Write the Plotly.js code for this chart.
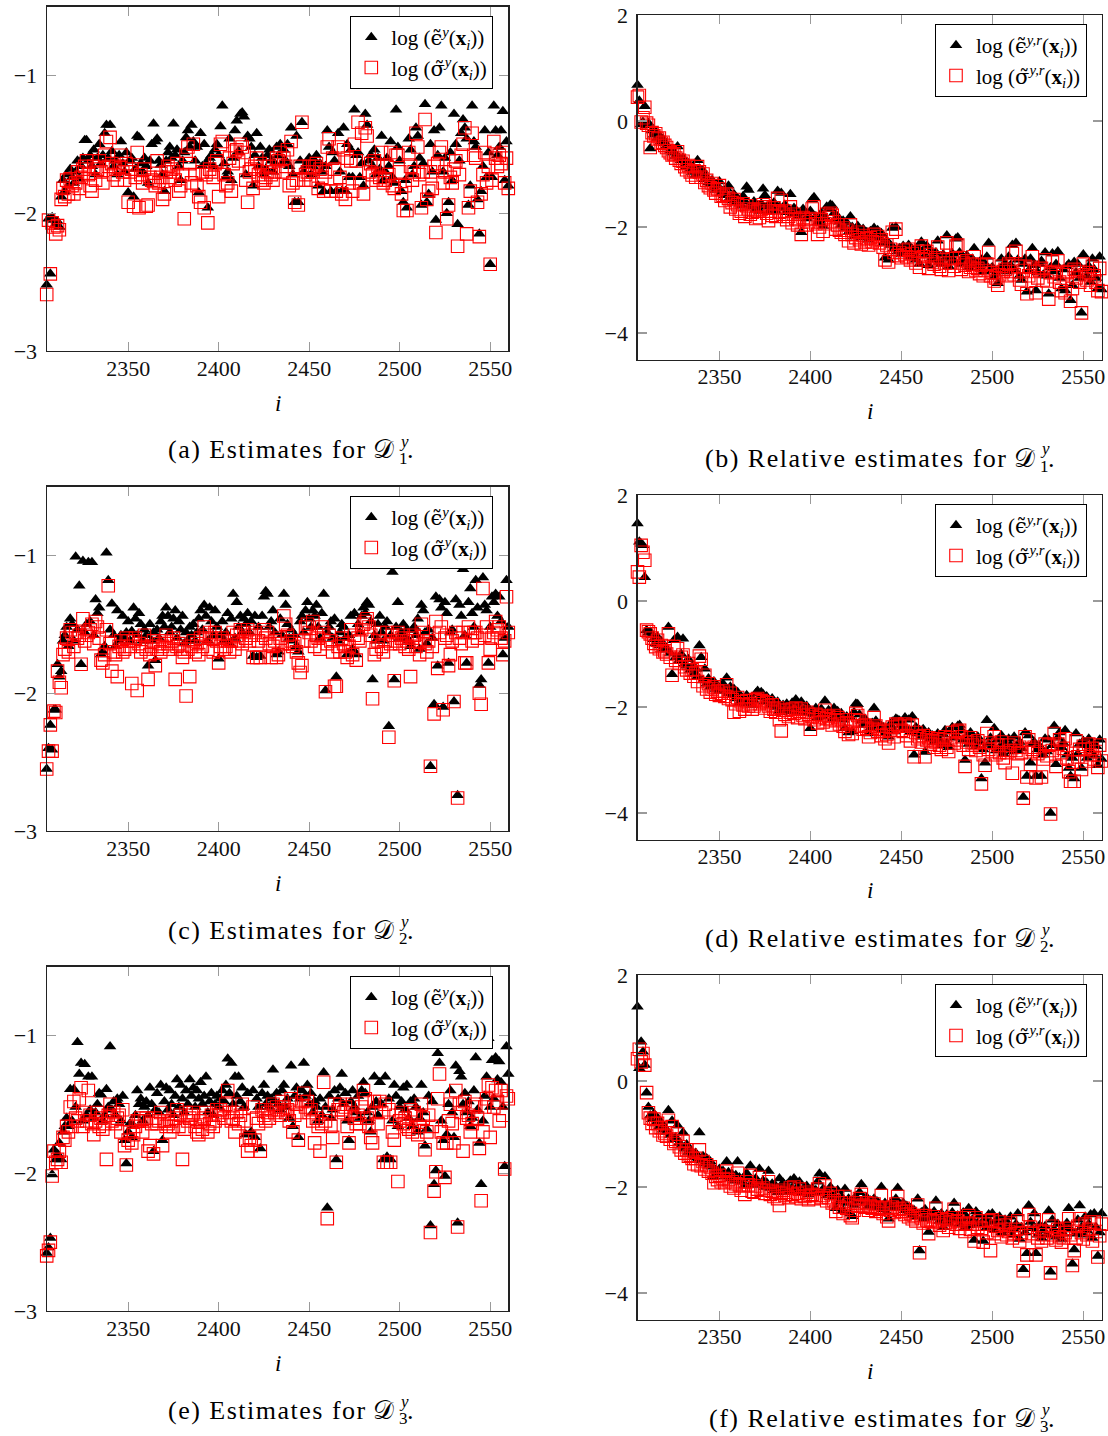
<!DOCTYPE html>
<html><head><meta charset="utf-8">
<script src="https://cdn.plot.ly/plotly-3.0.1.min.js"></script>
<style>html,body{margin:0;padding:0;background:#fff;}#chart{width:1108px;height:1436px;}</style>
</head><body><div id="chart"></div>
<script>
// ---------- data (index i from 2305 to 2560) ----------
const iStart = 2305, iEnd = 2560;
const xTicks = [2350, 2400, 2450, 2500, 2550];

const aEps = [
-2.52,-2.04,-2.44,-2.03,-2.05,-2.08,-2.06,-2.10,-1.88,-1.76,-1.84,-1.72,-1.80,-1.68,-1.74,-1.78,
-1.70,-1.62,-1.75,-1.66,-1.60,-1.47,-1.47,-1.62,-1.58,-1.66,-1.54,-1.72,-1.60,-1.50,-1.64,-1.58,
-1.42,-1.36,-1.60,-1.36,-1.55,-1.66,-1.62,-1.72,-1.58,-1.48,-1.64,-1.70,-1.56,-1.85,-1.62,-1.60,
-1.88,-1.68,-1.44,-1.45,-1.64,-1.70,-1.60,-1.66,-1.78,-1.62,-1.50,-1.35,-1.48,-1.46,-1.62,-1.65,
-1.72,-1.84,-1.62,-1.56,-1.52,-1.60,-1.35,-1.58,-1.54,-1.66,-1.76,-1.62,-1.56,-1.45,-1.40,-1.52,
-1.36,-1.48,-1.62,-1.52,-1.85,-1.42,-1.66,-1.50,-1.64,-1.96,-1.60,-1.58,-1.66,-1.54,-1.50,-1.58,
-1.37,-1.22,-1.64,-1.74,-1.70,-1.46,-1.76,-1.60,-1.40,-1.33,-1.55,-1.28,-1.27,-1.30,-1.72,-1.44,
-1.46,-1.52,-1.80,-1.58,-1.42,-1.66,-1.52,-1.60,-1.72,-1.68,-1.58,-1.54,-1.62,-1.70,-1.64,-1.52,
-1.58,-1.50,-1.64,-1.54,-1.62,-1.50,-1.66,-1.38,-1.72,-1.92,-1.44,-1.92,-1.62,-1.34,-1.70,-1.66,
-1.64,-1.60,-1.72,-1.66,-1.62,-1.58,-1.80,-1.64,-1.70,-1.84,-1.66,-1.40,-1.52,-1.84,-1.56,-1.62,
-1.84,-1.42,-1.70,-1.84,-1.38,-1.84,-1.50,-1.74,-1.54,-1.74,-1.25,-1.58,-1.56,-1.74,-1.64,-1.80,
-1.28,-1.36,-1.62,-1.58,-1.66,-1.54,-1.72,-1.60,-1.68,-1.44,-1.76,-1.70,-1.60,-1.66,-1.48,-1.74,
-1.78,-1.25,-1.52,-1.62,-1.84,-1.92,-1.76,-1.96,-1.46,-1.54,-1.72,-1.66,-1.38,-1.44,-1.60,-1.94,
-1.64,-1.21,-1.92,-1.86,-1.50,-1.70,-1.40,-2.05,-1.58,-1.38,-1.22,-1.70,-1.60,-2.00,-1.92,-1.56,
-1.76,-1.28,-1.50,-2.08,-1.62,-1.42,-1.32,-1.38,-1.46,-1.94,-1.80,-1.22,-1.48,-1.52,-1.90,-2.15,
-1.84,-1.66,-1.40,-1.74,-1.56,-2.37,-1.74,-1.22,-1.40,-1.58,-1.52,-1.40,-1.26,-1.76,-1.48,-1.80];
const aSig = [
-2.59,-2.05,-2.44,-2.07,-2.10,-2.15,-2.09,-2.12,-1.90,-1.82,-1.88,-1.76,-1.86,-1.75,-1.80,-1.86,
-1.78,-1.70,-1.82,-1.74,-1.68,-1.66,-1.62,-1.72,-1.80,-1.84,-1.66,-1.76,-1.68,-1.62,-1.70,-1.78,
-1.58,-1.48,-1.66,-1.45,-1.64,-1.72,-1.68,-1.76,-1.66,-1.58,-1.70,-1.76,-1.64,-1.92,-1.70,-1.68,
-1.95,-1.74,-1.56,-1.96,-1.72,-1.78,-1.68,-1.95,-1.94,-1.74,-1.76,-1.77,-1.80,-1.62,-1.78,-1.74,
-1.90,-1.86,-1.70,-1.66,-1.74,-1.68,-1.70,-1.76,-1.64,-1.84,-1.80,-1.72,-2.04,-1.58,-1.52,-1.64,
-1.78,-1.50,-1.72,-1.80,-1.88,-1.92,-1.70,-1.96,-1.72,-2.07,-1.68,-1.70,-1.74,-1.64,-1.62,-1.88,
-1.50,-1.48,-1.72,-1.80,-1.78,-1.60,-1.84,-1.64,-1.55,-1.54,-1.62,-1.50,-1.52,-1.56,-1.76,-1.92,
-1.70,-1.68,-1.82,-1.66,-1.60,-1.72,-1.64,-1.76,-1.78,-1.74,-1.70,-1.66,-1.72,-1.76,-1.70,-1.60,
-1.62,-1.56,-1.70,-1.60,-1.66,-1.54,-1.80,-1.48,-1.78,-1.92,-1.76,-1.94,-1.66,-1.34,-1.76,-1.72,
-1.70,-1.66,-1.76,-1.70,-1.66,-1.64,-1.82,-1.68,-1.74,-1.84,-1.70,-1.52,-1.46,-1.84,-1.60,-1.68,
-1.84,-1.52,-1.74,-1.86,-1.54,-1.90,-1.60,-1.78,-1.62,-1.84,-1.50,-1.62,-1.34,-1.78,-1.42,-1.86,
-1.38,-1.44,-1.70,-1.64,-1.72,-1.62,-1.76,-1.66,-1.74,-1.56,-1.78,-1.76,-1.66,-1.72,-1.56,-1.80,
-1.82,-1.58,-1.58,-1.70,-1.86,-1.98,-1.80,-1.98,-1.56,-1.66,-1.76,-1.70,-1.42,-1.52,-1.72,-1.96,
-1.70,-1.32,-1.90,-1.84,-1.70,-1.82,-1.66,-2.14,-1.64,-1.56,-1.52,-1.78,-1.70,-2.04,-1.94,-1.74,
-1.78,-1.68,-1.62,-2.24,-1.72,-1.58,-1.50,-1.38,-2.15,-1.96,-1.84,-1.42,-1.58,-1.60,-1.92,-2.17,
-1.86,-1.72,-1.56,-1.78,-1.66,-2.37,-1.76,-1.48,-1.60,-1.66,-1.58,-1.64,-1.56,-1.78,-1.60,-1.82];

const bEps = [
0.68,0.38,-0.06,-0.02,0.28,-0.08,-0.04,-0.52,-0.18,-0.26,-0.20,-0.32,-0.28,-0.38,-0.34,-0.42,
-0.46,-0.50,-0.56,-0.60,-0.58,-0.66,-0.48,-0.70,-0.74,-0.70,-0.82,-0.86,-0.80,-0.90,-0.96,-0.88,
-1.02,-0.74,-0.90,-1.00,-0.94,-1.10,-1.06,-1.16,-1.20,-1.12,-1.26,-1.30,-1.22,-1.14,-1.36,-1.32,
-1.40,-1.28,-1.22,-1.44,-1.50,-1.38,-1.54,-1.46,-1.56,-1.60,-1.42,-1.52,-1.24,-1.30,-1.58,-1.62,
-1.52,-1.66,-1.60,-1.70,-1.56,-1.28,-1.40,-1.62,-1.72,-1.58,-1.66,-1.54,-1.70,-1.32,-1.62,-1.36,
-1.64,-1.58,-1.72,-1.66,-1.38,-1.76,-1.64,-1.68,-1.80,-1.74,-2.10,-1.66,-1.72,-1.84,-1.78,-1.70,
-1.48,-1.44,-1.80,-1.92,-1.86,-1.74,-1.98,-1.82,-1.62,-1.66,-1.58,-1.60,-1.74,-1.86,-1.80,-1.90,
-1.96,-1.88,-2.02,-1.92,-2.10,-1.80,-2.00,-2.18,-2.06,-1.98,-2.12,-2.20,-2.04,-2.16,-2.10,-2.24,
-2.08,-2.18,-2.02,-2.14,-2.06,-2.20,-2.12,-2.30,-2.58,-2.26,-2.62,-2.34,-2.02,-2.40,-2.00,-2.46,
-2.40,-2.52,-2.36,-2.44,-2.48,-2.34,-2.56,-2.42,-2.50,-2.62,-2.38,-2.70,-2.28,-2.46,-2.54,-2.36,
-2.72,-2.44,-2.58,-2.62,-2.48,-2.26,-2.66,-2.70,-2.52,-2.60,-2.16,-2.74,-2.58,-2.50,-2.64,-2.22,
-2.20,-2.48,-2.70,-2.58,-2.62,-2.54,-2.76,-2.66,-2.60,-2.40,-2.72,-2.68,-2.78,-2.62,-2.84,-2.70,
-2.56,-2.30,-2.82,-2.76,-2.94,-2.88,-3.06,-2.80,-2.60,-2.74,-2.68,-2.84,-2.56,-2.72,-2.34,-2.80,
-2.30,-2.62,-2.92,-3.00,-2.70,-2.60,-3.22,-2.82,-2.60,-2.40,-2.72,-3.20,-2.86,-2.70,-2.64,-2.90,
-2.48,-2.92,-3.26,-2.76,-2.50,-2.84,-2.70,-2.46,-2.96,-3.16,-2.80,-3.20,-2.74,-2.70,-3.38,-3.10,
-2.66,-2.86,-2.70,-2.96,-3.62,-2.52,-2.80,-2.92,-2.74,-3.04,-2.60,-2.80,-2.96,-3.16,-2.56,-3.18];
const bSig = [
0.45,0.48,-0.02,0.06,0.26,-0.04,-0.08,-0.50,-0.22,-0.28,-0.24,-0.34,-0.32,-0.42,-0.40,-0.46,
-0.50,-0.56,-0.60,-0.64,-0.62,-0.70,-0.58,-0.74,-0.80,-0.76,-0.86,-0.92,-0.84,-0.96,-1.02,-0.94,
-1.06,-0.86,-0.96,-1.06,-1.00,-1.16,-1.12,-1.22,-1.26,-1.18,-1.30,-1.36,-1.28,-1.22,-1.42,-1.40,
-1.50,-1.38,-1.46,-1.62,-1.54,-1.48,-1.66,-1.58,-1.74,-1.70,-1.56,-1.80,-1.60,-1.66,-1.76,-1.72,
-1.68,-1.84,-1.70,-1.82,-1.66,-1.58,-1.62,-1.74,-1.88,-1.70,-1.78,-1.64,-1.80,-1.46,-1.72,-1.50,
-1.76,-1.70,-1.86,-1.80,-1.62,-1.92,-1.76,-1.84,-1.96,-1.86,-2.14,-1.82,-1.86,-1.96,-1.90,-1.84,
-1.66,-1.62,-1.94,-2.14,-2.00,-1.86,-2.08,-1.94,-1.76,-1.82,-1.74,-1.78,-1.90,-2.04,-1.96,-2.06,
-2.10,-2.02,-2.14,-2.06,-2.26,-1.96,-2.14,-2.30,-2.20,-2.10,-2.24,-2.32,-2.16,-2.28,-2.22,-2.34,
-2.20,-2.28,-2.14,-2.24,-2.18,-2.30,-2.24,-2.38,-2.62,-2.34,-2.66,-2.42,-2.10,-2.48,-2.04,-2.54,
-2.48,-2.58,-2.44,-2.52,-2.56,-2.42,-2.62,-2.50,-2.58,-2.68,-2.46,-2.76,-2.36,-2.56,-2.62,-2.46,
-2.78,-2.52,-2.66,-2.70,-2.58,-2.38,-2.74,-2.80,-2.62,-2.68,-2.30,-2.82,-2.68,-2.60,-2.74,-2.36,
-2.34,-2.58,-2.80,-2.68,-2.72,-2.64,-2.84,-2.76,-2.70,-2.56,-2.82,-2.78,-2.88,-2.72,-2.92,-2.82,
-2.70,-2.48,-2.92,-2.86,-3.02,-2.96,-3.10,-2.90,-2.74,-2.84,-2.80,-2.92,-2.70,-2.84,-2.50,-2.90,
-2.46,-2.74,-3.00,-3.08,-2.82,-2.74,-3.26,-2.92,-2.76,-2.56,-2.84,-3.24,-2.96,-2.82,-2.78,-3.00,
-2.62,-3.02,-3.36,-2.86,-2.66,-2.94,-2.84,-2.64,-3.04,-3.20,-2.90,-3.24,-2.86,-2.84,-3.40,-3.16,
-2.80,-2.96,-2.84,-3.04,-3.62,-2.70,-2.90,-3.00,-2.86,-3.10,-2.74,-2.92,-3.04,-3.20,-2.78,-3.22];

const cEps = [
-2.55,-2.40,-2.23,-2.41,-2.12,-2.12,-1.79,-1.88,-1.84,-1.62,-1.58,-1.52,-1.66,-1.46,-1.50,-1.62,
-1.01,-1.54,-1.22,-1.79,-1.04,-1.56,-1.50,-1.05,-1.48,-1.05,-1.58,-1.32,-1.42,-1.38,-1.72,-1.70,
-1.66,-0.98,-1.18,-1.54,-1.35,-1.58,-1.66,-1.40,-1.62,-1.58,-1.44,-1.60,-1.56,-1.48,-1.62,-1.55,
-1.38,-1.46,-1.58,-1.42,-1.50,-1.62,-1.54,-1.58,-1.80,-1.50,-1.62,-1.56,-1.76,-1.54,-1.60,-1.48,
-1.44,-1.52,-1.38,-1.44,-1.56,-1.52,-1.46,-1.40,-1.60,-1.48,-1.54,-1.44,-1.64,-1.56,-1.62,-1.52,
-1.58,-1.50,-1.62,-1.56,-1.46,-1.40,-1.54,-1.36,-1.44,-1.62,-1.38,-1.48,-1.58,-1.40,-1.52,-1.75,
-1.58,-1.48,-1.62,-1.56,-1.42,-1.64,-1.46,-1.28,-1.60,-1.34,-1.52,-1.44,-1.56,-1.46,-1.50,-1.42,
-1.56,-1.48,-1.73,-1.44,-1.74,-1.52,-1.73,-1.44,-1.30,-1.26,-1.28,-1.52,-1.48,-1.40,-1.56,-1.72,
-1.70,-1.46,-1.58,-1.28,-1.36,-1.50,-1.60,-1.54,-1.62,-1.58,-1.66,-1.70,-1.48,-1.44,-1.56,-1.40,
-1.34,-1.46,-1.52,-1.40,-1.44,-1.36,-1.52,-1.60,-1.42,-1.28,-1.98,-1.56,-1.52,-1.48,-1.60,-1.46,
-1.88,-1.62,-1.56,-1.50,-1.52,-1.60,-1.72,-1.58,-1.44,-1.68,-1.42,-1.72,-1.50,-1.56,-1.44,-1.38,
-1.42,-1.34,-1.36,-1.48,-1.90,-1.58,-1.62,-1.50,-1.44,-1.56,-1.62,-1.52,-1.48,-2.24,-1.58,-1.12,
-1.90,-1.52,-1.34,-1.60,-1.56,-1.50,-1.60,-1.54,-1.62,-1.66,-1.54,-1.52,-1.58,-1.46,-1.68,-1.36,
-1.40,-1.56,-1.64,-1.54,-2.53,-1.60,-2.08,-1.30,-1.80,-1.32,-1.38,-2.10,-1.34,-1.42,-1.78,-1.56,
-1.54,-2.06,-1.32,-2.74,-1.36,-1.44,-1.10,-1.58,-1.78,-1.34,-1.24,-1.42,-1.52,-1.18,-1.38,-1.94,
-1.90,-1.16,-1.36,-1.40,-1.78,-1.52,-1.30,-1.34,-1.28,-1.44,-1.30,-1.48,-1.72,-1.60,-1.18,-1.52];
const cSig = [
-2.55,-2.42,-2.23,-2.42,-2.13,-2.14,-1.84,-1.92,-1.96,-1.72,-1.68,-1.60,-1.70,-1.54,-1.56,-1.66,
-1.56,-1.60,-1.58,-1.79,-1.46,-1.62,-1.58,-1.56,-1.54,-1.50,-1.64,-1.48,-1.52,-1.60,-1.76,-1.78,
-1.72,-1.54,-1.22,-1.64,-1.84,-1.70,-1.72,-1.88,-1.66,-1.62,-1.70,-1.68,-1.60,-1.62,-1.66,-1.93,
-1.62,-1.60,-1.98,-1.64,-1.70,-1.66,-1.58,-1.68,-1.90,-1.72,-1.66,-1.62,-1.80,-1.68,-1.64,-1.70,
-1.66,-1.62,-1.58,-1.64,-1.68,-1.62,-1.60,-1.90,-1.66,-1.64,-1.68,-1.74,-1.70,-2.02,-1.68,-1.88,
-1.66,-1.62,-1.70,-1.64,-1.72,-1.60,-1.66,-1.52,-1.58,-1.68,-1.56,-1.60,-1.70,-1.56,-1.62,-1.78,
-1.66,-1.60,-1.68,-1.66,-1.62,-1.70,-1.62,-1.56,-1.68,-1.58,-1.62,-1.54,-1.64,-1.56,-1.60,-1.54,
-1.62,-1.58,-1.74,-1.56,-1.74,-1.62,-1.74,-1.58,-1.54,-1.60,-1.56,-1.64,-1.74,-1.66,-1.62,-1.74,
-1.72,-1.60,-1.64,-1.44,-1.50,-1.58,-1.64,-1.62,-1.66,-1.64,-1.70,-1.78,-1.85,-1.80,-1.62,-1.52,
-1.50,-1.56,-1.62,-1.48,-1.66,-1.58,-1.60,-1.68,-1.52,-1.56,-1.99,-1.64,-1.58,-1.62,-1.70,-1.95,
-1.95,-1.66,-1.70,-1.60,-1.64,-1.70,-1.74,-1.66,-1.54,-1.72,-1.58,-1.76,-1.60,-1.62,-1.54,-1.50,
-1.48,-1.46,-1.52,-1.58,-2.04,-1.72,-1.68,-1.62,-1.56,-1.66,-1.70,-1.62,-1.56,-2.32,-1.64,-1.58,
-1.91,-1.62,-1.56,-1.64,-1.60,-1.58,-1.66,-1.62,-1.68,-1.88,-1.60,-1.58,-1.66,-1.62,-1.72,-1.50,
-1.56,-1.64,-1.70,-1.62,-2.53,-1.66,-2.15,-1.48,-1.82,-1.56,-1.52,-2.12,-1.60,-1.58,-1.80,-1.72,
-1.62,-2.06,-1.56,-2.76,-1.60,-1.64,-1.56,-1.78,-1.78,-1.52,-1.56,-1.62,-1.56,-1.56,-1.60,-2.00,
-2.08,-1.24,-1.58,-1.52,-1.78,-1.68,-1.60,-1.56,-1.48,-1.54,-1.52,-1.60,-1.72,-1.62,-1.30,-1.56];

const dEps = [
1.46,1.12,1.08,1.05,0.45,-0.55,-0.60,-0.58,-0.64,-0.72,-0.80,-0.68,-0.84,-0.76,-0.90,-0.86,
-0.92,-0.49,-0.98,-1.38,-0.74,-1.06,-0.68,-1.12,-1.00,-0.71,-1.18,-1.22,-1.10,-1.30,-1.24,-1.36,
-1.28,-1.42,-0.84,-1.06,-1.50,-1.28,-1.56,-1.46,-1.62,-1.58,-1.52,-1.66,-1.60,-1.70,-1.64,-1.56,
-1.68,-1.45,-1.74,-1.62,-1.78,-1.66,-1.84,-1.72,-1.92,-1.80,-1.86,-1.94,-1.78,-1.90,-1.84,-1.96,
-1.88,-1.74,-1.70,-1.82,-1.72,-1.76,-1.90,-1.80,-1.86,-1.96,-1.84,-1.92,-2.00,-1.90,-2.06,-2.10,
-1.96,-2.04,-1.94,-2.08,-2.00,-1.92,-2.02,-1.86,-2.10,-1.98,-1.90,-2.06,-2.12,-1.98,-2.04,-2.40,
-2.08,-2.14,-2.02,-2.20,-2.10,-2.04,-2.18,-1.88,-2.12,-2.06,-2.14,-2.22,-2.02,-2.16,-2.08,-2.20,
-2.12,-2.24,-2.40,-2.18,-2.48,-2.20,-2.46,-2.10,-1.94,-1.95,-2.14,-2.26,-2.34,-2.22,-2.30,-2.50,
-2.40,-2.30,-2.02,-2.26,-2.36,-2.32,-2.44,-2.38,-2.50,-2.42,-2.56,-2.34,-2.28,-2.46,-2.22,-2.24,
-2.26,-2.34,-2.38,-2.20,-2.42,-2.24,-2.46,-2.18,-2.90,-2.38,-2.50,-2.44,-2.56,-2.42,-2.85,-2.52,
-2.48,-2.60,-2.54,-2.66,-2.58,-2.50,-2.62,-2.72,-2.52,-2.44,-2.68,-2.76,-2.46,-2.38,-2.58,-2.52,
-2.36,-2.34,-2.44,-2.62,-3.00,-2.56,-2.70,-2.48,-2.64,-2.58,-2.74,-2.56,-2.66,-3.35,-2.80,-3.05,
-2.25,-2.70,-2.58,-2.74,-2.40,-2.82,-2.62,-2.76,-2.54,-2.88,-2.68,-2.78,-2.60,-2.72,-2.84,-2.56,
-2.74,-2.82,-2.66,-2.78,-3.70,-2.48,-3.30,-2.54,-3.05,-2.70,-2.66,-3.30,-2.80,-2.74,-3.30,-2.90,
-2.60,-2.84,-2.62,-4.00,-2.72,-2.36,-3.08,-2.58,-2.48,-2.76,-2.68,-2.44,-2.90,-3.15,-3.30,-2.96,
-3.35,-2.50,-2.88,-2.70,-3.15,-2.64,-2.72,-2.96,-2.60,-2.82,-2.68,-2.92,-2.74,-3.10,-2.62,-2.98];
const dSig = [
0.55,0.45,1.05,0.92,0.77,-0.55,-0.58,-0.62,-0.70,-0.80,-0.86,-0.74,-0.90,-0.84,-0.96,-0.94,
-1.00,-0.62,-1.06,-1.40,-0.86,-1.12,-0.90,-1.18,-1.06,-1.02,-1.24,-1.30,-1.18,-1.36,-1.30,-1.42,
-1.36,-1.52,-1.04,-1.10,-1.60,-1.40,-1.66,-1.56,-1.72,-1.66,-1.62,-1.76,-1.70,-1.78,-1.74,-1.70,
-1.80,-1.58,-1.84,-1.74,-1.86,-2.10,-1.94,-1.82,-2.08,-1.90,-1.96,-2.04,-1.88,-1.98,-1.94,-2.04,
-1.98,-1.86,-1.84,-1.94,-1.88,-1.90,-2.02,-1.92,-1.98,-2.08,-1.96,-2.04,-2.10,-2.02,-2.24,-2.45,
-2.06,-2.14,-2.06,-2.18,-2.10,-2.04,-2.12,-2.02,-2.20,-2.08,-2.04,-2.16,-2.22,-2.10,-2.14,-2.42,
-2.18,-2.24,-2.14,-2.30,-2.20,-2.16,-2.28,-2.06,-2.22,-2.18,-2.24,-2.34,-2.16,-2.26,-2.20,-2.32,
-2.24,-2.36,-2.46,-2.30,-2.52,-2.32,-2.50,-2.24,-2.12,-2.16,-2.26,-2.36,-2.42,-2.34,-2.40,-2.56,
-2.48,-2.40,-2.20,-2.36,-2.46,-2.42,-2.54,-2.46,-2.60,-2.52,-2.68,-2.44,-2.38,-2.56,-2.32,-2.34,
-2.36,-2.44,-2.46,-2.32,-2.54,-2.36,-2.64,-2.34,-2.94,-2.48,-2.60,-2.56,-2.66,-2.54,-2.94,-2.62,
-2.58,-2.70,-2.64,-2.76,-2.66,-2.60,-2.72,-2.80,-2.62,-2.56,-2.76,-2.84,-2.58,-2.48,-2.68,-2.62,
-2.46,-2.44,-2.56,-2.72,-3.12,-2.66,-2.80,-2.58,-2.72,-2.68,-2.82,-2.64,-2.76,-3.45,-2.90,-3.10,
-2.50,-2.80,-2.68,-2.84,-2.56,-2.90,-2.72,-2.86,-2.66,-2.96,-3.05,-2.86,-2.72,-2.82,-3.25,-2.68,
-2.82,-2.88,-2.76,-2.86,-3.72,-2.56,-3.32,-2.62,-3.08,-2.80,-2.76,-3.34,-2.88,-2.84,-3.32,-2.98,
-2.70,-2.92,-2.72,-4.02,-2.82,-2.50,-3.12,-2.70,-2.62,-2.86,-2.78,-2.60,-2.96,-3.22,-3.40,-3.04,
-3.40,-2.64,-2.94,-2.80,-3.18,-2.74,-2.80,-3.02,-2.70,-2.90,-2.78,-2.98,-2.84,-3.14,-2.72,-3.02];

const eEps = [
-2.58,-2.54,-2.47,-2.01,-1.83,-1.90,-1.86,-1.78,-1.90,-1.70,-1.66,-1.60,-1.66,-1.39,-1.62,-1.39,
-1.52,-1.05,-1.28,-1.20,-1.62,-1.21,-1.58,-1.30,-1.54,-1.30,-1.60,-1.56,-1.50,-1.42,-1.43,-1.62,
-1.58,-1.39,-1.52,-1.08,-1.54,-1.48,-1.58,-1.46,-1.50,-1.62,-1.44,-1.76,-1.93,-1.70,-1.64,-1.74,
-1.66,-1.58,-1.40,-1.50,-1.46,-1.62,-1.52,-1.48,-1.58,-1.38,-1.50,-1.84,-1.54,-1.42,-1.56,-1.36,
-1.76,-1.48,-1.38,-1.54,-1.40,-1.50,-1.58,-1.44,-1.32,-1.52,-1.36,-1.46,-1.56,-1.40,-1.50,-1.32,
-1.44,-1.38,-1.52,-1.40,-1.46,-1.34,-1.50,-1.44,-1.30,-1.56,-1.48,-1.42,-1.58,-1.50,-1.44,-1.52,
-1.46,-1.40,-1.48,-1.36,-1.17,-1.42,-1.20,-1.50,-1.30,-1.44,-1.30,-1.48,-1.38,-1.52,-1.72,-1.42,
-1.72,-1.70,-1.40,-1.74,-1.46,-1.52,-1.82,-1.42,-1.36,-1.50,-1.44,-1.52,-1.46,-1.25,-1.48,-1.42,
-1.50,-1.54,-1.40,-1.36,-1.52,-1.46,-1.60,-1.22,-1.66,-1.44,-1.38,-1.74,-1.46,-1.40,-1.20,-1.44,
-1.36,-1.50,-1.42,-1.56,-1.48,-1.52,-1.62,-1.46,-1.58,-1.27,-1.52,-2.25,-1.44,-1.60,-1.54,-1.40,
-1.90,-1.46,-1.38,-1.28,-1.50,-1.42,-1.62,-1.76,-1.48,-1.40,-1.52,-1.56,-1.44,-1.60,-1.40,-1.34,
-1.42,-1.56,-1.62,-1.70,-1.52,-1.30,-1.48,-1.58,-1.34,-1.50,-1.90,-1.30,-1.88,-1.46,-1.90,-1.62,
-1.36,-1.44,-1.66,-1.52,-1.48,-1.38,-1.54,-1.36,-1.60,-1.48,-1.66,-1.46,-1.52,-1.70,-1.60,-1.36,
-1.56,-1.80,-1.68,-1.44,-2.38,-1.48,-2.08,-1.98,-1.13,-1.20,-1.62,-1.76,-2.02,-1.72,-1.50,-1.40,
-1.56,-1.74,-1.22,-2.36,-1.26,-1.30,-1.50,-1.42,-1.56,-1.48,-1.66,-1.60,-1.40,-1.16,-1.54,-1.78,
-2.08,-1.62,-1.44,-1.30,-1.02,-1.52,-1.18,-1.46,-1.16,-1.32,-1.19,-1.34,-1.52,-1.95,-1.08,-1.28];
const eSig = [
-2.60,-2.56,-2.50,-2.02,-1.84,-1.92,-1.90,-1.84,-1.92,-1.74,-1.76,-1.66,-1.70,-1.52,-1.66,-1.48,
-1.60,-1.62,-1.46,-1.38,-1.66,-1.56,-1.62,-1.40,-1.58,-1.64,-1.72,-1.62,-1.56,-1.66,-1.60,-1.68,
-1.64,-1.90,-1.58,-1.50,-1.62,-1.56,-1.64,-1.60,-1.58,-1.70,-1.54,-1.80,-1.94,-1.76,-1.70,-1.78,
-1.72,-1.66,-1.62,-1.62,-1.60,-1.70,-1.62,-1.60,-1.84,-1.80,-1.64,-1.86,-1.60,-1.64,-1.62,-1.56,
-1.80,-1.62,-1.66,-1.64,-1.70,-1.62,-1.66,-1.60,-1.54,-1.66,-1.58,-1.90,-1.68,-1.56,-1.62,-1.60,
-1.58,-1.56,-1.66,-1.70,-1.72,-1.62,-1.68,-1.60,-1.56,-1.70,-1.64,-1.58,-1.66,-1.62,-1.54,-1.58,
-1.54,-1.56,-1.60,-1.50,-1.40,-1.56,-1.62,-1.60,-1.70,-1.56,-1.64,-1.58,-1.50,-1.62,-1.76,-1.84,
-1.74,-1.80,-1.52,-1.76,-1.60,-1.64,-1.84,-1.54,-1.58,-1.62,-1.56,-1.60,-1.54,-1.50,-1.56,-1.52,
-1.54,-1.58,-1.48,-1.52,-1.56,-1.54,-1.62,-1.46,-1.70,-1.58,-1.50,-1.76,-1.56,-1.48,-1.42,-1.52,
-1.48,-1.56,-1.54,-1.62,-1.78,-1.60,-1.66,-1.84,-1.64,-1.34,-1.62,-2.33,-1.56,-1.66,-1.74,-1.50,
-1.92,-1.54,-1.50,-1.54,-1.56,-1.52,-1.66,-1.78,-1.56,-1.50,-1.60,-1.64,-1.58,-1.64,-1.52,-1.40,
-1.46,-1.60,-1.66,-1.74,-1.78,-1.48,-1.56,-1.64,-1.48,-1.56,-1.92,-1.50,-1.92,-1.54,-1.92,-1.70,
-1.76,-1.58,-2.06,-1.62,-1.56,-1.64,-1.60,-1.66,-1.68,-1.54,-1.70,-1.56,-1.58,-1.72,-1.66,-1.50,
-1.60,-1.83,-1.70,-1.58,-2.43,-1.66,-2.13,-1.99,-1.46,-1.28,-1.70,-1.78,-2.03,-1.78,-1.62,-1.50,
-1.64,-1.78,-1.40,-2.39,-1.50,-1.56,-1.84,-1.48,-1.60,-1.58,-1.70,-1.64,-1.52,-1.50,-1.60,-1.82,
-2.20,-1.70,-1.52,-1.46,-1.36,-1.74,-1.38,-1.52,-1.40,-1.48,-1.62,-1.40,-1.58,-1.97,-1.44,-1.46];

const fEps = [
1.40,0.24,0.74,0.55,0.30,-0.22,-0.49,-0.65,-0.72,-0.62,-0.80,-0.70,-0.86,-0.78,-0.92,-0.88,
-0.96,-0.55,-1.02,-0.75,-1.10,-1.06,-0.84,-1.16,-1.22,-0.97,-1.28,-1.20,-1.34,-1.30,-1.38,-1.44,
-1.36,-1.48,-0.97,-1.50,-1.42,-1.56,-1.46,-1.60,-1.52,-1.62,-1.80,-1.68,-1.74,-1.66,-1.76,-1.70,
-1.80,-1.52,-1.72,-1.84,-1.76,-1.88,-1.78,-1.52,-1.82,-1.90,-1.86,-1.96,-1.74,-1.82,-1.60,-1.92,
-1.96,-1.84,-1.90,-1.66,-1.94,-1.88,-2.00,-1.92,-1.70,-2.02,-1.94,-2.06,-1.98,-2.10,-1.84,-2.00,
-1.92,-2.04,-1.96,-2.10,-1.88,-2.02,-1.84,-2.08,-2.00,-1.90,-2.12,-2.04,-2.08,-1.98,-2.14,-2.06,
-2.02,-2.12,-2.06,-1.90,-1.75,-2.10,-2.04,-1.80,-2.16,-2.08,-2.00,-2.20,-2.14,-2.40,-2.06,-2.28,
-2.18,-2.44,-2.04,-2.30,-2.22,-2.50,-2.55,-2.34,-2.18,-2.26,-2.10,-1.95,-2.24,-2.30,-2.20,-2.36,
-2.26,-2.32,-2.22,-2.38,-2.28,-2.34,-2.00,-2.42,-2.30,-2.48,-2.60,-2.36,-2.28,-2.40,-2.22,-2.02,
-2.32,-2.38,-2.30,-2.44,-2.36,-2.48,-2.40,-2.52,-2.44,-2.56,-2.22,-3.20,-2.48,-2.60,-2.42,-2.54,
-2.85,-2.52,-2.58,-2.46,-2.26,-2.56,-2.64,-2.50,-2.76,-2.60,-2.52,-2.68,-2.58,-2.48,-2.30,-2.62,
-2.54,-2.70,-2.62,-2.48,-2.76,-2.58,-2.40,-2.72,-2.62,-3.00,-2.46,-2.68,-2.54,-2.70,-3.02,-2.60,
-2.76,-2.52,-2.66,-2.50,-2.80,-2.64,-2.72,-2.56,-2.86,-2.70,-2.62,-2.82,-2.74,-2.56,-2.90,-2.80,
-2.70,-2.50,-2.98,-2.76,-3.55,-2.86,-3.25,-2.35,-2.66,-2.78,-2.50,-3.25,-2.90,-2.72,-2.96,-2.82,
-2.74,-2.90,-2.45,-3.60,-2.62,-2.80,-2.94,-2.70,-2.86,-2.98,-2.88,-2.76,-2.68,-2.40,-2.80,-3.45,
-3.18,-2.88,-2.62,-2.35,-2.76,-2.90,-2.56,-2.82,-2.70,-2.52,-2.96,-2.50,-2.76,-3.30,-2.86,-2.50];
const fSig = [
0.42,0.60,0.36,0.52,0.30,-0.22,-0.60,-0.70,-0.80,-0.72,-0.88,-0.80,-0.94,-0.88,-1.02,-0.98,
-1.04,-0.74,-1.10,-0.86,-1.18,-1.14,-1.00,-1.24,-1.30,-1.14,-1.36,-1.30,-1.42,-1.40,-1.46,-1.56,
-1.46,-1.58,-1.30,-1.60,-1.52,-1.66,-1.58,-1.70,-1.62,-1.74,-1.92,-1.80,-1.86,-1.78,-1.90,-1.84,
-1.92,-1.70,-1.86,-1.98,-1.90,-2.02,-1.94,-1.74,-1.96,-2.06,-1.98,-2.14,-1.90,-1.96,-1.78,-2.08,
-2.10,-1.98,-2.04,-1.82,-2.06,-2.02,-2.12,-2.06,-1.90,-2.14,-2.08,-2.18,-2.10,-2.22,-2.35,-2.12,
-2.06,-2.16,-2.10,-2.20,-2.02,-2.14,-2.00,-2.18,-2.12,-2.04,-2.22,-2.16,-2.18,-2.10,-2.24,-2.16,
-2.14,-2.22,-2.16,-2.04,-1.94,-2.20,-2.16,-1.98,-2.26,-2.20,-2.12,-2.30,-2.26,-2.46,-2.18,-2.38,
-2.30,-2.50,-2.18,-2.40,-2.34,-2.54,-2.58,-2.44,-2.30,-2.36,-2.22,-2.14,-2.34,-2.38,-2.30,-2.44,
-2.36,-2.40,-2.32,-2.46,-2.38,-2.42,-2.16,-2.50,-2.40,-2.56,-2.64,-2.44,-2.38,-2.48,-2.32,-2.18,
-2.42,-2.46,-2.40,-2.52,-2.46,-2.56,-2.50,-2.60,-2.54,-2.64,-2.34,-3.24,-2.58,-2.68,-2.54,-2.62,
-2.88,-2.62,-2.66,-2.56,-2.40,-2.64,-2.72,-2.60,-2.82,-2.68,-2.62,-2.76,-2.66,-2.58,-2.42,-2.70,
-2.64,-2.78,-2.70,-2.58,-2.84,-2.68,-2.54,-2.80,-2.70,-3.02,-2.58,-2.76,-2.64,-2.78,-3.04,-2.70,
-2.86,-2.64,-3.20,-2.62,-2.88,-2.74,-2.82,-2.66,-2.94,-2.80,-2.72,-2.90,-2.84,-2.68,-2.96,-2.88,
-2.80,-2.64,-3.02,-2.86,-3.58,-2.92,-3.28,-2.52,-2.76,-2.88,-2.62,-3.28,-2.96,-2.82,-3.02,-2.90,
-2.84,-2.96,-2.62,-3.62,-2.74,-2.90,-3.00,-2.80,-2.94,-3.04,-2.96,-2.86,-2.78,-2.60,-2.90,-3.48,
-3.20,-2.96,-2.74,-2.60,-2.86,-2.98,-2.70,-2.90,-2.80,-2.66,-3.02,-2.66,-2.84,-3.32,-2.92,-2.70];

// legend names
const EPS = '<span style="font-family:\'DejaVu Serif\'">\u03F5\u0303</span>';
const SIG = '<span style="font-family:\'DejaVu Serif\'">\u03C3\u0303</span>';
const nameEps = 'log (' + EPS + '<sup><i>y</i></sup>(<b>x</b><sub><i>i</i></sub>))';
const nameSig = 'log (' + SIG + '<sup><i>y</i></sup>(<b>x</b><sub><i>i</i></sub>))';
const nameEpsR = 'log (' + EPS + '<sup><i>y,r</i></sup>(<b>x</b><sub><i>i</i></sub>))';
const nameSigR = 'log (' + SIG + '<sup><i>y,r</i></sup>(<b>x</b><sub><i>i</i></sub>))';

// ---------- layout helpers ----------
const W = 1108, H = 1436;
const px = v => v / W, py = v => 1 - v / H;
const FONT = '"Liberation Serif", "DejaVu Serif", serif';
const SP = t => '<span style="letter-spacing:1.5px">' + t + '</span>';

const idx = [];
for (let i = iStart; i <= iEnd; i++) idx.push(i);

const panels = [
  {eps:aEps, sig:aSig, rel:false, x0:46.7, x1:508.3, y0:6.5,  y1:351,   yr:[-3,-0.5], yt:[-3,-2,-1], lr:493.3, lt:16, iy:403, cy:450, cap:'(a) Estimates for', sub:'1', cx:396},
  {eps:bEps, sig:bSig, rel:true,  x0:637.5, x1:1101.5, y0:15, y1:359.5, yr:[-4.5,2], yt:[-4,-2,0,2], lr:1087, lt:24, iy:411, cy:458, cap:'(b) Relative estimates for', sub:'1', cx:1037},
  {eps:cEps, sig:cSig, rel:false, x0:46.7, x1:508.3, y0:486.5, y1:831,  yr:[-3,-0.5], yt:[-3,-2,-1], lr:493.3, lt:496, iy:883, cy:930, cap:'(c) Estimates for', sub:'2', cx:396},
  {eps:dEps, sig:dSig, rel:true,  x0:637.5, x1:1101.5, y0:495, y1:839.5, yr:[-4.5,2], yt:[-4,-2,0,2], lr:1087, lt:504, iy:891, cy:938, cap:'(d) Relative estimates for', sub:'2', cx:1037},
  {eps:eEps, sig:eSig, rel:false, x0:46.7, x1:508.3, y0:966.5, y1:1311, yr:[-3,-0.5], yt:[-3,-2,-1], lr:493.3, lt:976, iy:1363, cy:1410, cap:'(e) Estimates for', sub:'3', cx:396},
  {eps:fEps, sig:fSig, rel:true,  x0:637.5, x1:1101.5, y0:975, y1:1319.5, yr:[-4.5,2], yt:[-4,-2,0,2], lr:1087, lt:984, iy:1371, cy:1418, cap:'(f) Relative estimates for', sub:'3', cx:1037}
];

const traces = [];
const layout = {
  width: W, height: H, margin:{l:0,r:0,t:0,b:0},
  paper_bgcolor:'#fff', plot_bgcolor:'#fff',
  font:{family:FONT, size:20, color:'#000'},
  annotations: [], showlegend:true
};

panels.forEach((p, k) => {
  const s = k === 0 ? '' : String(k + 1);
  const legendId = 'legend' + s;
  traces.push({
    type:'scatter', mode:'markers', x:idx, y:p.eps, xaxis:'x'+s, yaxis:'y'+s,
    name: p.rel ? nameEpsR : nameEps, legend: legendId, cliponaxis:false,
    marker:{symbol:'triangle-up', size:11, color:'#000'}
  });
  traces.push({
    type:'scatter', mode:'markers', x:idx, y:p.sig, xaxis:'x'+s, yaxis:'y'+s,
    name: p.rel ? nameSigR : nameSig, legend: legendId, cliponaxis:false,
    marker:{symbol:'square-open', size:12.5, color:'#ff0000', line:{width:1.1, color:'#ff0000'}}
  });
  const common = {
    showgrid:false, zeroline:false, showline:true, linecolor:'#222', linewidth:1.2,
    ticks:'inside', ticklen:9, tickwidth:1.2, tickcolor:'#9a9a9a', mirror:'ticks',
    tickfont:{family:FONT, size:22, color:'#111'}
  };
  layout['xaxis'+s] = Object.assign({}, common, {
    domain:[px(p.x0), px(p.x1)], range:[iStart, iEnd], tickvals:xTicks,
    anchor:'y'+s, ticklabelstandoff:-3
  });
  layout['yaxis'+s] = Object.assign({}, common, {
    domain:[py(p.y1), py(p.y0)], range:p.yr, tickvals:p.yt,
    anchor:'x'+s, ticklabelstandoff:4
  });
  layout[legendId] = {
    x:px(p.lr), xanchor:'right', y:py(p.lt), yanchor:'top', xref:'paper', yref:'paper',
    bgcolor:'#fff', bordercolor:'#000', borderwidth:1,
    font:{family:FONT, size:21, color:'#000'}, tracegroupgap:0, itemwidth:30
  };
  const cxm = (p.x0 + p.x1) / 2;
  layout.annotations.push({xref:'paper', yref:'paper', x:px(cxm), y:py(p.iy), text:'<i>i</i>', showarrow:false,
    xanchor:'center', yanchor:'middle', font:{family:FONT, size:23, color:'#000'}});
  layout.annotations.push({xref:'paper', yref:'paper', x:px(p.cx), y:py(p.cy), text:SP(p.cap) + ' \uD835\uDC9F', showarrow:false,
    xanchor:'right', yanchor:'middle', font:{family:FONT, size:26, color:'#000'}});
  layout.annotations.push({xref:'paper', yref:'paper', x:px(p.cx + 1), y:py(p.cy - 9), text:'<i>y</i>', showarrow:false,
    xanchor:'left', yanchor:'middle', font:{family:FONT, size:17, color:'#000'}});
  layout.annotations.push({xref:'paper', yref:'paper', x:px(p.cx + 1), y:py(p.cy + 8), text:p.sub, showarrow:false,
    xanchor:'left', yanchor:'middle', font:{family:FONT, size:17, color:'#000'}});
  layout.annotations.push({xref:'paper', yref:'paper', x:px(p.cx + 9), y:py(p.cy), text:'.', showarrow:false,
    xanchor:'left', yanchor:'middle', font:{family:FONT, size:26, color:'#000'}});
});

Plotly.newPlot('chart', traces, layout, {staticPlot:true, displayModeBar:false});
</script>
</body></html>
